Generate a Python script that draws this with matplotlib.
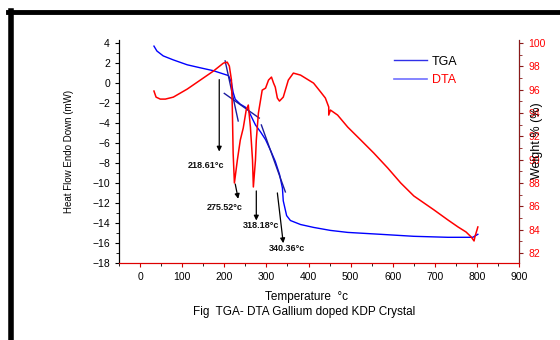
import matplotlib
matplotlib.use("Agg")
import matplotlib.pyplot as plt
from matplotlib.lines import Line2D

plt.rcParams["font.family"] = ["Liberation Sans", "DejaVu Sans"]

# heat flow curve (blue, left axis)
hf_temp = [33, 40, 55, 79, 112, 143, 174, 210, 217, 221, 226, 238, 250, 257, 267,
           274, 286, 298, 310, 321, 331, 338, 340, 348, 357, 381, 412, 452, 493,
           571, 650, 731, 790, 798, 802]
hf_val = [3.70, 3.21, 2.72, 2.32, 1.83, 1.53, 1.24, 0.75, 0.06, -0.93, -1.62,
          -2.11, -2.41, -2.71, -3.59, -4.19, -4.88, -5.66, -6.75, -7.83, -9.12,
          -10.5, -11.78, -13.26, -13.75, -14.15, -14.44, -14.74, -14.94, -15.13,
          -15.33, -15.43, -15.43, -15.23, -15.13]

# weight curve (red, right axis)
wt_temp = [33, 38, 48, 60, 79, 112, 143, 174, 198, 207, 212, 217, 219, 221, 224,
           231, 238, 245, 252, 257, 262, 267, 269, 274, 276, 281, 290, 298, 305,
           312, 317, 321, 326, 331, 340, 352, 364, 381, 412, 429, 440, 448, 448,
           452, 469, 493, 524, 555, 588, 619, 650, 674, 698, 731, 755, 774, 786,
           793, 795, 800, 802]
wt_val = [95.89, 95.37, 95.2, 95.2, 95.37, 96.06, 96.83, 97.6, 98.29, 98.37,
          98.03, 96.83, 94.52, 90.57, 88.0, 89.97, 91.69, 92.72, 94.26, 94.69,
          92.8, 89.97, 87.66, 89.97, 91.69, 94.0, 95.97, 96.14, 96.83, 97.09,
          96.57, 96.23, 95.29, 95.03, 95.37, 96.83, 97.43, 97.26, 96.57, 95.8,
          95.29, 94.52, 93.83, 94.26, 93.83, 92.8, 91.69, 90.57, 89.29, 88.0,
          86.89, 86.29, 85.69, 84.83, 84.23, 83.8, 83.38, 83.03, 83.38, 83.98,
          84.23]

# tangent construction lines (left axis units)
tangent_x = [(202, 233), (200, 283), (288, 345)]
tangent_y = [(2.22, -3.79), (-1.03, -3.50), (-4.19, -10.89)]

# peak annotations
peak_labels = ["218.61°c", "275.52°c", "318.18°c", "340.36°c"]
arrow_start = [(188, 0.35), (226, -10.1), (276, -10.79), (326, -10.99)]
arrow_end = [(188, -6.85), (233, -11.58), (276, -13.75), (340, -16.02)]
label_pos = [(157, -8.23), (202, -12.47), (288, -14.24), (348, -16.51)]

fig = plt.figure(figsize=(5.6, 3.4), dpi=100)
ax = fig.add_axes([0.2125, 0.2265, 0.7145, 0.6555])
ax2 = ax.twinx()

ax.plot(hf_temp, hf_val, color="#0000ff", lw=1.0, zorder=3)
for tx, ty in zip(tangent_x, tangent_y):
    ax.plot(tx, ty, color="#1c1ca0", lw=1.0, zorder=4)
ax2.plot(wt_temp, wt_val, color="#ff0000", lw=1.1)

for lab, s, e, p in zip(peak_labels, arrow_start, arrow_end, label_pos):
    ax.annotate("", xy=e, xytext=s,
                arrowprops=dict(arrowstyle="-|>", color="black", lw=0.9,
                                mutation_scale=7, shrinkA=0, shrinkB=0))
    ax.text(p[0], p[1], lab, fontsize=6.5, fontweight="bold", ha="center",
            va="center", color="#111111")

ax.set_xlim(-50, 900)
ax.set_ylim(-18, 4.3)
ax.set_xticks(range(0, 901, 100))
ax.set_xticks(range(-50, 901, 50), minor=True)
ax.set_yticks(range(-18, 5, 2))
ax.set_yticks(range(-17, 5, 2), minor=True)
ax.tick_params(axis="both", which="major", labelsize=7.5, length=3, direction="out")
ax.tick_params(axis="both", which="minor", length=2, direction="out")
ax.tick_params(axis="x", colors="#cc0000", labelcolor="black")

ax2.set_ylim(81.14, 100.26)
ax2.set_yticks(range(82, 101, 2))
ax2.set_yticks(range(83, 101, 2), minor=True)
ax2.tick_params(axis="y", which="major", labelsize=7.5, length=3, direction="out",
                colors="#8b1a1a", labelcolor="#ff0000")
ax2.tick_params(axis="y", which="minor", length=2, direction="out", colors="#8b1a1a")

ax.spines["top"].set_visible(False)
ax2.spines["top"].set_visible(False)
ax.spines["bottom"].set_color("#dd0000")
ax2.spines["bottom"].set_color("#dd0000")
ax2.spines["right"].set_color("#8b1a1a")
ax2.spines["left"].set_color("black")

ax.set_ylabel("Heat Flow Endo Down (mW)", fontsize=7)
ax.yaxis.set_label_coords(-0.112, 0.5)
ax2.set_ylabel("Weight % (%)", fontsize=9)
ax2.yaxis.set_label_coords(1.03, 0.55)

fig.text(0.547, 0.127, "Temperature  °c", fontsize=8.5, ha="center", va="center")
fig.text(0.543, 0.082, "Fig  TGA- DTA Gallium doped KDP Crystal", fontsize=8.5,
         ha="center", va="center")

# legend
handles = [Line2D([], [], color="#3030e8", lw=1.0),
           Line2D([], [], color="#7070ff", lw=1.2)]
leg = ax.legend(handles, ["TGA", "DTA"], loc="upper left",
                bbox_to_anchor=(0.66, 0.98), frameon=False, fontsize=9,
                handlelength=2.6, handletextpad=0.4, labelspacing=0.5)
leg.get_texts()[1].set_color("#ff0000")

# page frame
fig.add_artist(Line2D([0.019, 0.019], [0.0, 0.968], color="black", lw=4.0))
fig.add_artist(Line2D([0.015, 1.0], [0.965, 0.965], color="black", lw=3.5))

fig.savefig("out.png", dpi=100)
